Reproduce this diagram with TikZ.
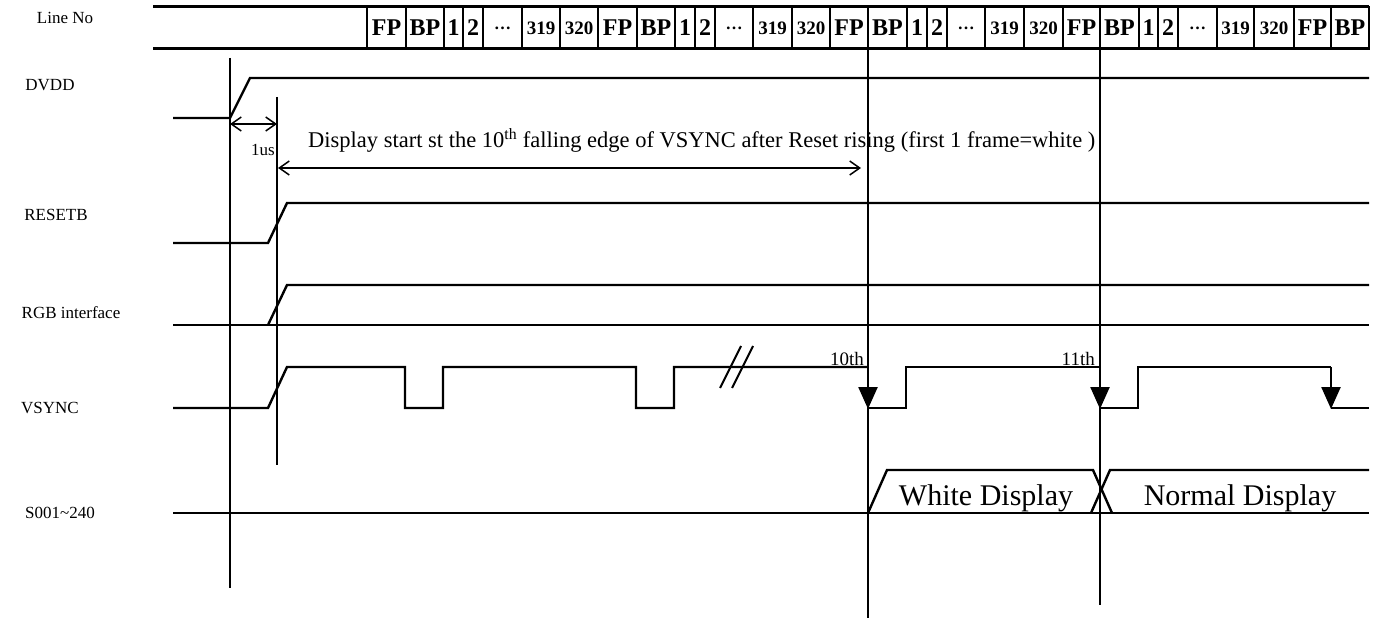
\documentclass[tikz,border=0pt]{standalone}
\usepackage{fontspec}
\setmainfont{Liberation Serif}
\usetikzlibrary{arrows.meta}
\newcommand\cfbig{\bfseries\fontsize{24}{24}\selectfont}
\newcommand\cfsmall{\bfseries\fontsize{19}{19}\selectfont}
\newcommand\cfdots{\bfseries\fontsize{17}{17}\selectfont}
\begin{document}
\begin{tikzpicture}[x=1pt,y=-1pt,
  sig/.style={line width=2.4pt, line join=miter},
  vline/.style={line width=1.5pt},
  rowline/.style={line width=3pt},
  cell/.style={draw, line width=1.8pt, inner sep=0pt, minimum height=42pt},
  lbl/.style={font=\fontsize{17}{17}\selectfont, inner sep=0pt},
  dimarrow/.style={line width=1.5pt, {Straight Barb[length=10pt,width=14pt,line width=1.5pt]}-{Straight Barb[length=10pt,width=14pt,line width=1.5pt]}},
  fallarrow/.style={sig, -{Triangle[length=22pt,width=19pt]}, shorten >=-1pt},
  txt/.style={inner sep=0pt}
]
\useasboundingbox (0,0) rectangle (1377,618);

% ---------- Line No row ----------
\node[lbl] (lLine) at (65,18) {Line No};
\foreach \a/\b/\t [count=\i] in {
  367/406/FP, 406/444/BP, 444/463/1, 463/483/2,
  598/637/FP, 637/675/BP, 675/695/1, 695/715/2,
  830/868/FP, 868/907/BP, 907/927/1, 927/947/2,
  1063/1100/FP, 1100/1139/BP, 1139/1158/1, 1158/1178/2,
  1294/1331/FP, 1331/1369/BP} {
  \pgfmathsetmacro\w{\b-\a}
  \node[cell, font=\cfbig, minimum width=\w pt] (cb\i) at ({(\a+\b)/2},28) {\t};
}
\foreach \a/\b/\t [count=\i] in {
  522/560/319, 560/598/320,
  753/792/319, 792/830/320,
  985/1024/319, 1024/1063/320,
  1217/1254/319, 1254/1294/320} {
  \pgfmathsetmacro\w{\b-\a}
  \node[cell, font=\cfsmall, minimum width=\w pt] (cs\i) at ({(\a+\b)/2},28) {\t};
}
\foreach \a/\b [count=\i] in {483/522, 715/753, 947/985, 1178/1217} {
  \pgfmathsetmacro\w{\b-\a}
  \node[cell, font=\cfdots, minimum width=\w pt] (cd\i) at ({(\a+\b)/2},28) {…};
}
\coordinate (rowTL) at (153,7);
\coordinate (rowTR) at (1369,7);
\coordinate (rowBL) at (153,49);
\coordinate (rowBR) at (1369,49);
\draw[rowline] (rowTL) -- (rowTR);
\draw[rowline] (rowBL) -- (rowBR);

% ---------- signal labels ----------
\node[lbl] (lDVDD) at (50,85) {DVDD};
\node[lbl] (lRST) at (56,215) {RESETB};
\node[lbl] (lRGB) at (71,313) {RGB interface};
\node[lbl] (lVS) at (50,408) {VSYNC};
\node[lbl] (lS) at (60,513) {S001\textasciitilde240};

% ---------- vertical marker lines ----------
\coordinate (v0t) at (230,58);  \coordinate (v0b) at (230,588);
\coordinate (v1t) at (277,97);  \coordinate (v1b) at (277,465);
\coordinate (v2t) at (868,7);   \coordinate (v2b) at (868,618);
\coordinate (v3t) at (1100,7);  \coordinate (v3b) at (1100,605);
\draw[vline] (v0t) -- (v0b);
\draw[vline] (v1t) -- (v1b);
\draw[vline] (v2t) -- (v2b);
\draw[vline] (v3t) -- (v3b);

% ---------- DVDD ----------
\draw[sig] (173,118) -- (230,118) -- (250,78) -- (1369,78);

% ---------- 1us ----------
\coordinate (us1) at (230,124);
\coordinate (us2) at (277,124);
\draw[dimarrow] (us1) -- (us2);
\node[txt, font=\fontsize{17}{17}\selectfont, anchor=base east] (lus) at (275,155) {1us};

% ---------- display start arrow ----------
\node[txt, font=\fontsize{22.5}{22.5}\selectfont, anchor=base west] (ldisp) at (308,147)
  {Display start st the 10\textsuperscript{th} falling edge of VSYNC after Reset rising (first 1 frame=white )};
\coordinate (ds1) at (278,168);
\coordinate (ds2) at (861,168);
\draw[dimarrow] (ds1) -- (ds2);

% ---------- RESETB ----------
\draw[sig] (173,243) -- (268,243) -- (287,203) -- (1369,203);

% ---------- RGB interface ----------
\draw[sig] (173,325) -- (1369,325);
\draw[sig] (268,325) -- (287,285) -- (1369,285);

% ---------- VSYNC ----------
\draw[sig] (173,408) -- (268,408) -- (287,367) -- (405,367) -- (405,408) -- (443,408)
  -- (443,367) -- (636,367) -- (636,408) -- (674,408) -- (674,367) -- (868,367);
\coordinate (f10a) at (868,367); \coordinate (f10b) at (868,408);
\draw[fallarrow] (f10a) -- (f10b);
\draw[sig] (868,408) -- (906,408) -- (906,367) -- (1100,367);
\coordinate (f11a) at (1100,367); \coordinate (f11b) at (1100,408);
\draw[fallarrow] (f11a) -- (f11b);
\draw[sig] (1100,408) -- (1138,408) -- (1138,367) -- (1331,367);
\coordinate (f12a) at (1331,367); \coordinate (f12b) at (1331,408);
\draw[fallarrow] (f12a) -- (f12b);
\draw[sig] (1331,408) -- (1369,408);
% break marks
\draw[line width=2pt] (720,388) -- (741,346);
\draw[line width=2pt] (732,388) -- (753,346);
\node[txt, font=\fontsize{19}{19}\selectfont, anchor=base east] (l10) at (864,365) {10th};
\node[txt, font=\fontsize{19}{19}\selectfont, anchor=base east] (l11) at (1095,365) {11th};

% ---------- S001~240 ----------
\draw[sig] (173,513) -- (1369,513);
\draw[sig] (868,513) -- (887,470) -- (1093,470) -- (1112,513);
\draw[sig] (1091,513) -- (1110,470) -- (1369,470);
\node[txt, font=\fontsize{30}{30}\selectfont, anchor=base] (lwhite) at (986,505) {White Display};
\node[txt, font=\fontsize{30}{30}\selectfont, anchor=base] (lnormal) at (1240,505) {Normal Display};
\end{tikzpicture}
\end{document}
